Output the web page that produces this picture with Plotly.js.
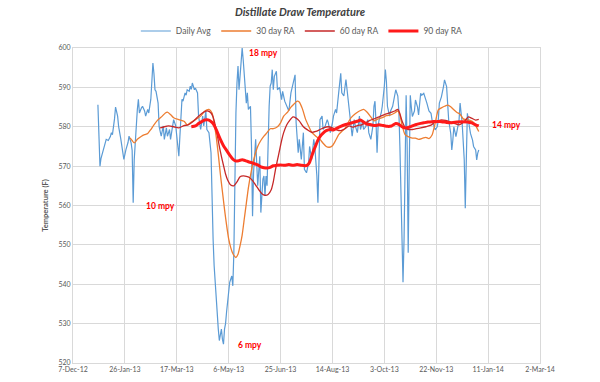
<!DOCTYPE html>
<html>
<head>
<meta charset="utf-8">
<script src="https://cdn.plot.ly/plotly-3.0.1.min.js"></script>
<style>html,body{margin:0;padding:0;background:#fff;}#chart{width:600px;height:382px;}</style>
</head>
<body>
<div id="chart"></div>
<script>
// Day offsets are days since 7-Dec-2012
const baseDate = [2012, 11, 7];

const dailyDays = [24,25,26,27,29,31,32,34,36,37,38,40,41,43,44,46,48,49,51,53,54,56,57,58,59,61,62,63,64,66,67,69,70,72,73,75,76,77,78,79,80,82,83,85,87,88,90,91,93,94,96,97,99,101,102,103,104,105,106,108,109,110,112,113,114,115,117,118,120,121,123,125,126,128,129,131,133,134,135,136,137,138,139,140,141,142,143,144,145,146,147,148,149,150,151,153,154,155,156,157,158,159,160,161,162,163,164,166,167,168,169,171,172,173,174,176,177,178,180,181,183,184,185,186,187,188,189,190,191,192,193,194,196,197,199,201,202,204,206,208,210,212,214,215,217,218,220,222,223,225,227,228,230,232,233,235,236,237,238,240,241,243,245,246,248,250,251,253,254,256,258,259,261,263,264,266,267,269,271,272,274,276,277,279,280,282,284,285,287,289,290,291,292,293,294,295,297,298,300,301,302,303,305,306,308,310,311,313,314,315,316,317,318,319,320,321,322,323,324,325,326,327,329,330,332,333,335,336,338,340,341,343,345,346,348,349,351,352,353,355,357,358,360,361,362,364,365,366,367,369,370,372,373,375,377,378,379,380,382,383,385,386,388,389,390,391];
const dailyAvg = [585.6,578,570,572,574,575.5,576.8,576.5,577.5,578.5,578,582,585,582.7,580,577,573.4,571.7,574.2,576,577.6,575.9,574,560.7,571.7,582.7,584.4,587,583.5,584.8,585.2,584,582.7,584.4,583.5,587,591,596.2,593.5,589.4,589,586,580,577.6,580.2,576.8,579.7,577.6,579.3,576.8,580.2,581.8,580.2,575.9,572.5,577.6,583.5,587,586.5,588.6,588,589.4,589,590.3,589.5,591.1,589.4,589.8,588.6,582.7,579.3,582.7,580.2,584,579.3,578.5,573.4,560,551.4,544.7,540,537,531.2,528.6,525.7,527.8,528.6,526,524.8,528.6,530,533,536.2,539.6,540.5,542.1,539.6,548,574.2,583.5,591.1,595.4,589.4,594,597,600,597,591.1,586,588.6,584.4,585.2,575,557.3,568.3,576.8,569.2,565,572.5,558.2,566.7,567.5,562.4,567.5,565,576.8,585.2,590.3,591.1,594.5,589.4,592.8,594.1,589.4,590,586.9,589,586.5,585,584,588.6,591.1,593.2,581,573.4,576.8,571.7,578.5,569.2,568.3,570.8,575,571.7,576.8,575,567.5,560.7,570.8,581.8,582.7,579.3,580.2,581.8,581,578.5,581,582.7,584.4,583.5,588.6,593.6,588.6,587.8,592,589.4,585.2,582.7,577.6,581.8,580.2,578.5,582.7,579.3,581.3,579.3,580,581.8,578.5,576.8,580.2,585.2,586.5,581,573.4,580.2,581.8,583.5,585.2,590.3,594.5,591.5,585.2,582.7,584,585.2,587.8,589.4,587.8,584,575,563,548,540.5,551.4,572.5,588,575,548,570,588,585,582.6,584,586.8,585,583,588.5,588,588.5,587,586,584,583.4,581.7,580,579.2,580,581.7,586,587.6,590.2,591.9,590.2,586,581.7,578.3,574.1,576.6,580,577.5,579.2,581.7,586,580.9,571.6,559.3,571.6,583.4,580,578.3,576.6,575,574.1,571.6,573.3,574.1];

const ra30Days = [55,57,59,62,66,69,72,75,78,82,86,89,91,94,97,102,107,110,113,118,123,127,131,134,136,138,140,142,144,146,148,150,152,154,157,159,161,163,165,167,169,172,175,178,181,184,187,190,193,197,200,203,207,210,213,216,218,221,224,227,230,234,238,241,244,247,250,253,256,259,262,265,268,272,276,280,283,287,290,294,298,302,306,310,313,315,317,320,323,327,330,333,337,340,343,346,349,352,355,358,361,364,367,370,373,376,379,382,385,388,391];
const ra30 = [577.2,576.5,575.9,576.8,577.6,578,578.3,579.3,580.5,581.8,582.7,583.5,583.7,583.1,582.3,581.8,581.4,580.5,581,581.8,582.7,584,584.4,583.5,581,577.5,573,568,563.5,559,555,551.5,549.3,547.8,546.8,547.6,549.8,552.5,556.5,560.5,564.5,569,572.5,575,576.5,577.6,578.5,579.5,579.5,580,581,582.7,583.8,585,585.8,586.5,586.3,584.6,582,580.2,578.6,577.6,576.8,575.8,575,574.8,575.2,576.5,578,578.8,579.5,581,582.3,583.3,584,584.4,583.8,582.5,581.5,582,582.3,582.8,583,583.5,584,583,580.5,578,577.5,577.1,577.1,576.8,577.1,577.3,577,577.9,580.9,584.3,584.8,585.2,585.5,585.1,584.3,583.6,583.2,582,581.8,581.7,581.3,580.3,578.8];

const ra60Days = [84,88,92,97,102,107,111,116,121,126,130,133,135,137,139,141,143,145,147,149,152,155,158,161,164,167,170,173,176,179,182,185,188,191,193,195,197,199,201,203,206,209,212,215,218,222,226,230,234,238,242,246,250,254,258,262,266,270,274,278,282,286,290,295,300,305,310,313,315,317,320,323,327,331,335,340,345,349,354,359,364,369,372,375,378,381,384,388,391];
const ra60 = [579.7,580,580.2,580,579.7,580.3,580.5,581.4,582.7,583.7,584,583.5,582.5,580.5,578,575,572.5,570.2,568,566.5,565.2,565,566,567.3,567.5,567.4,567.1,566.3,565.2,564,563,562.6,562.8,564,566,569,571.5,574,576.5,578.5,580.5,581.7,582.5,582.2,581.5,580,579.2,578.6,578.8,579.3,579.8,580,579.7,579.2,579,579.5,580.2,579.9,580.3,580.5,581,581.6,582,582.5,583.1,583.5,584,584.4,583.3,581.5,579.8,579.3,579.3,579.5,579.7,580,580.4,581.2,581.7,581.6,581.2,580.7,580.5,580.9,581.6,582.5,582.2,581.7,581.9];

const ra90Days = [114,118,121,124,127,131,134,136,138,140,142,145,148,151,154,157,160,163,166,169,172,175,178,181,184,187,190,193,196,200,204,208,212,216,220,224,226,228,230,232,234,236,238,241,244,248,251,254,258,262,266,270,274,277,280,283,287,291,295,299,303,307,311,314,317,320,323,326,330,334,338,342,346,350,355,360,365,370,375,380,384,388,391];
const ra90 = [580,580.2,580.8,581.3,581.7,581.7,581.1,580.4,579.3,578,576.8,575.2,574,572.8,571.8,571.3,571.4,571.6,571.4,571.1,570.9,570.6,570.3,569.8,569.6,569.5,569.7,570.1,570.2,570.3,570.2,570.4,570.2,570.4,570.2,570.1,570.3,571,572.5,574,575.3,576.6,577.5,578.4,579,579.3,579.2,579.6,580.1,580.5,580.8,581.1,581.4,581.7,581.2,580.7,580.5,580.3,580.5,580.3,580.1,580.2,580.8,580.6,580,579.7,579.8,580.1,580.5,580.8,581,581.2,581.3,581.3,581.3,581.1,581,581.2,581.3,581.2,581,580.5,580.2];

const noteText = ['18 mpy', '6 mpy', '10 mpy', '14 mpy'];
const noteDays = [184, 171, 84, 418];
const noteVals = [598.8, 524.6, 560, 580.4];

const tickDays = 50;
const yRange = [520, 600];
const xRangeDays = [0, 450];

function toDate(d) {
  return new Date(Date.UTC(baseDate[0], baseDate[1], baseDate[2] + d)).toISOString().slice(0, 10);
}

const FONT = 'Lato, "Open Sans", sans-serif';
const GRAY = '#595959';

const traces = [
  {x: dailyDays.map(toDate), y: dailyAvg, name: 'Daily Avg', mode: 'lines', line: {color: '#5B9BD5', width: 1.2}},
  {x: ra30Days.map(toDate), y: ra30, name: '30 day RA', mode: 'lines', line: {color: '#ED7D31', width: 1.3, shape: 'spline', smoothing: 0.6}},
  {x: ra60Days.map(toDate), y: ra60, name: '60 day RA', mode: 'lines', line: {color: '#C62828', width: 1.3, shape: 'spline', smoothing: 0.6}},
  {x: ra90Days.map(toDate), y: ra90, name: '90 day RA', mode: 'lines', line: {color: '#FF1A1A', width: 3, shape: 'spline', smoothing: 0.6}}
];

const annotations = noteText.map((t, i) => ({
  x: toDate(noteDays[i]), y: noteVals[i], xref: 'x', yref: 'y', text: '<b>' + t + '</b>',
  showarrow: false, font: {family: FONT, size: 8.5, color: '#FF0000'}
}));

const layout = {
  width: 600, height: 382,
  margin: {l: 73, r: 60, t: 48, b: 19},
  paper_bgcolor: '#ffffff', plot_bgcolor: '#ffffff',
  font: {family: FONT, color: GRAY},
  title: {text: '<b><i>Distillate Draw Temperature</i></b>', font: {family: FONT, size: 11, color: '#404040'},
          x: 0.5, xref: 'container', y: 1 - 12/382, yref: 'container', yanchor: 'middle'},
  showlegend: true,
  legend: {orientation: 'h', x: 0.49, xanchor: 'center', y: 1.054, yanchor: 'middle',
           font: {family: FONT, size: 8.5, color: GRAY}, bgcolor: 'rgba(0,0,0,0)'},
  xaxis: {
    type: 'date', range: xRangeDays.map(toDate), tick0: toDate(0), dtick: tickDays * 86400000,
    tickformat: '%-d-%b-%y', tickfont: {family: FONT, size: 7, color: GRAY},
    showgrid: true, gridcolor: '#D9D9D9', gridwidth: 1, zeroline: false,
    showline: true, linecolor: '#D9D9D9', mirror: true, ticks: '', fixedrange: true
  },
  yaxis: {
    range: yRange, dtick: 10, tick0: 520, tickfont: {family: FONT, size: 7, color: GRAY},
    showgrid: true, gridcolor: '#D9D9D9', gridwidth: 1, zeroline: false,
    showline: true, linecolor: '#D9D9D9', mirror: true, ticks: '',
    title: {text: '<b>Temperature (F)</b>', font: {family: FONT, size: 7.5, color: GRAY}, standoff: 8},
    fixedrange: true
  },
  annotations: annotations
};

Plotly.newPlot('chart', traces, layout, {displayModeBar: false, staticPlot: true});
</script>
</body>
</html>
